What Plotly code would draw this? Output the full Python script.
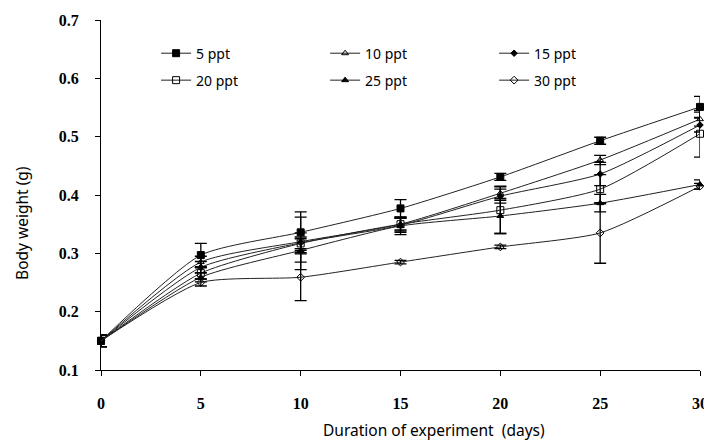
import plotly.graph_objects as go

days = [0, 5, 10, 15, 20, 25, 30]
series_names = ["5 ppt", "10 ppt", "15 ppt", "20 ppt", "25 ppt", "30 ppt"]
w5 = [0.15, 0.297, 0.336, 0.377, 0.431, 0.493, 0.551]
w10 = [0.15, 0.285, 0.320, 0.350, 0.403, 0.460, 0.530]
w15 = [0.15, 0.276, 0.318, 0.348, 0.398, 0.436, 0.520]
w20 = [0.15, 0.266, 0.317, 0.350, 0.374, 0.410, 0.505]
w25 = [0.15, 0.259, 0.305, 0.347, 0.364, 0.386, 0.418]
w30 = [0.15, 0.250, 0.259, 0.285, 0.311, 0.335, 0.415]
e5 = [0.01, 0.02, 0.035, 0.015, 0.006, 0.006, 0.018]
e10 = [0.01, 0.01, 0.015, 0.01, 0.012, 0.008, 0.012]
e15 = [0.01, 0.01, 0.01, 0.012, 0.012, 0.02, 0.012]
e20 = [0.01, 0.01, 0.045, 0.012, 0.04, 0.025, 0.04]
e25 = [0.01, 0.008, 0.02, 0.015, 0.03, 0.015, 0.008]
e30 = [0.01, 0.006, 0.04, 0.003, 0.003, 0.052, 0.005]
y_ticks = [0.1, 0.2, 0.3, 0.4, 0.5, 0.6, 0.7]
x_title = "Duration of experiment  (days)"
y_title = "Body weight (g)"

values = [w5, w10, w15, w20, w25, w30]
errors = [e5, e10, e15, e20, e25, e30]
symbols = ["square", "triangle-up-open", "diamond", "square-open", "triangle-up", "diamond-open"]
sizes = [7, 6, 5, 7, 6, 6]
legends = ["legend", "legend", "legend", "legend2", "legend2", "legend2"]

fig = go.Figure()
for name, v, e, sym, sz, lg in zip(series_names, values, errors, symbols, sizes, legends):
    fig.add_trace(go.Scatter(
        x=days, y=v, name=name, mode="lines+markers",
        line=dict(color="#222222", width=1, shape="spline", smoothing=0.6),
        marker=dict(symbol=sym, size=sz, color="black", line=dict(color="black", width=1)),
        error_y=dict(type="data", array=e, visible=True, color="black", thickness=1.3, width=6),
        cliponaxis=False, legend=lg,
    ))

legend_common = dict(orientation="h", xanchor="left", yanchor="middle",
                     entrywidth=124, entrywidthmode="pixels",
                     font=dict(family="Noto Sans, Open Sans, sans-serif", size=14, color="black"),
                     bgcolor="rgba(0,0,0,0)", traceorder="normal")

tick_font = dict(family="Liberation Serif, serif", size=16, color="black", weight="bold")
title_font = dict(family="Noto Sans, Open Sans, sans-serif", size=15.5, color="black")

fig.update_layout(
    width=704, height=445,
    margin=dict(l=101, r=4, t=20, b=75),
    paper_bgcolor="white", plot_bgcolor="white",
    showlegend=True,
    legend=dict(x=0.092, y=0.904, **legend_common),
    legend2=dict(x=0.092, y=0.827, **legend_common),
    xaxis=dict(range=[0, 30], tickvals=days, ticktext=[str(d) for d in days],
               showgrid=False, zeroline=False, showline=True, linecolor="black", linewidth=1,
               ticks="outside", ticklen=5, tickcolor="black", ticklabelstandoff=14,
               ticklabeloverflow="allow", automargin=False,
               tickfont=tick_font),
    yaxis=dict(range=[0.1, 0.7], tickvals=y_ticks, ticktext=[f"{t:.1f}" for t in y_ticks],
               showgrid=False, zeroline=False, showline=True, linecolor="black", linewidth=1,
               ticks="outside", ticklen=5, tickcolor="black", ticklabelstandoff=13,
               automargin=False,
               tickfont=tick_font),
    annotations=[
        dict(text=x_title, xref="paper", yref="paper", x=0.556, y=-0.171,
             xanchor="center", yanchor="middle", showarrow=False, font=title_font),
        dict(text=y_title, xref="paper", yref="paper", x=-0.132, y=0.42, textangle=-90,
             xanchor="center", yanchor="middle", showarrow=False, font=title_font),
    ],
)

fig.write_html("out.html")
